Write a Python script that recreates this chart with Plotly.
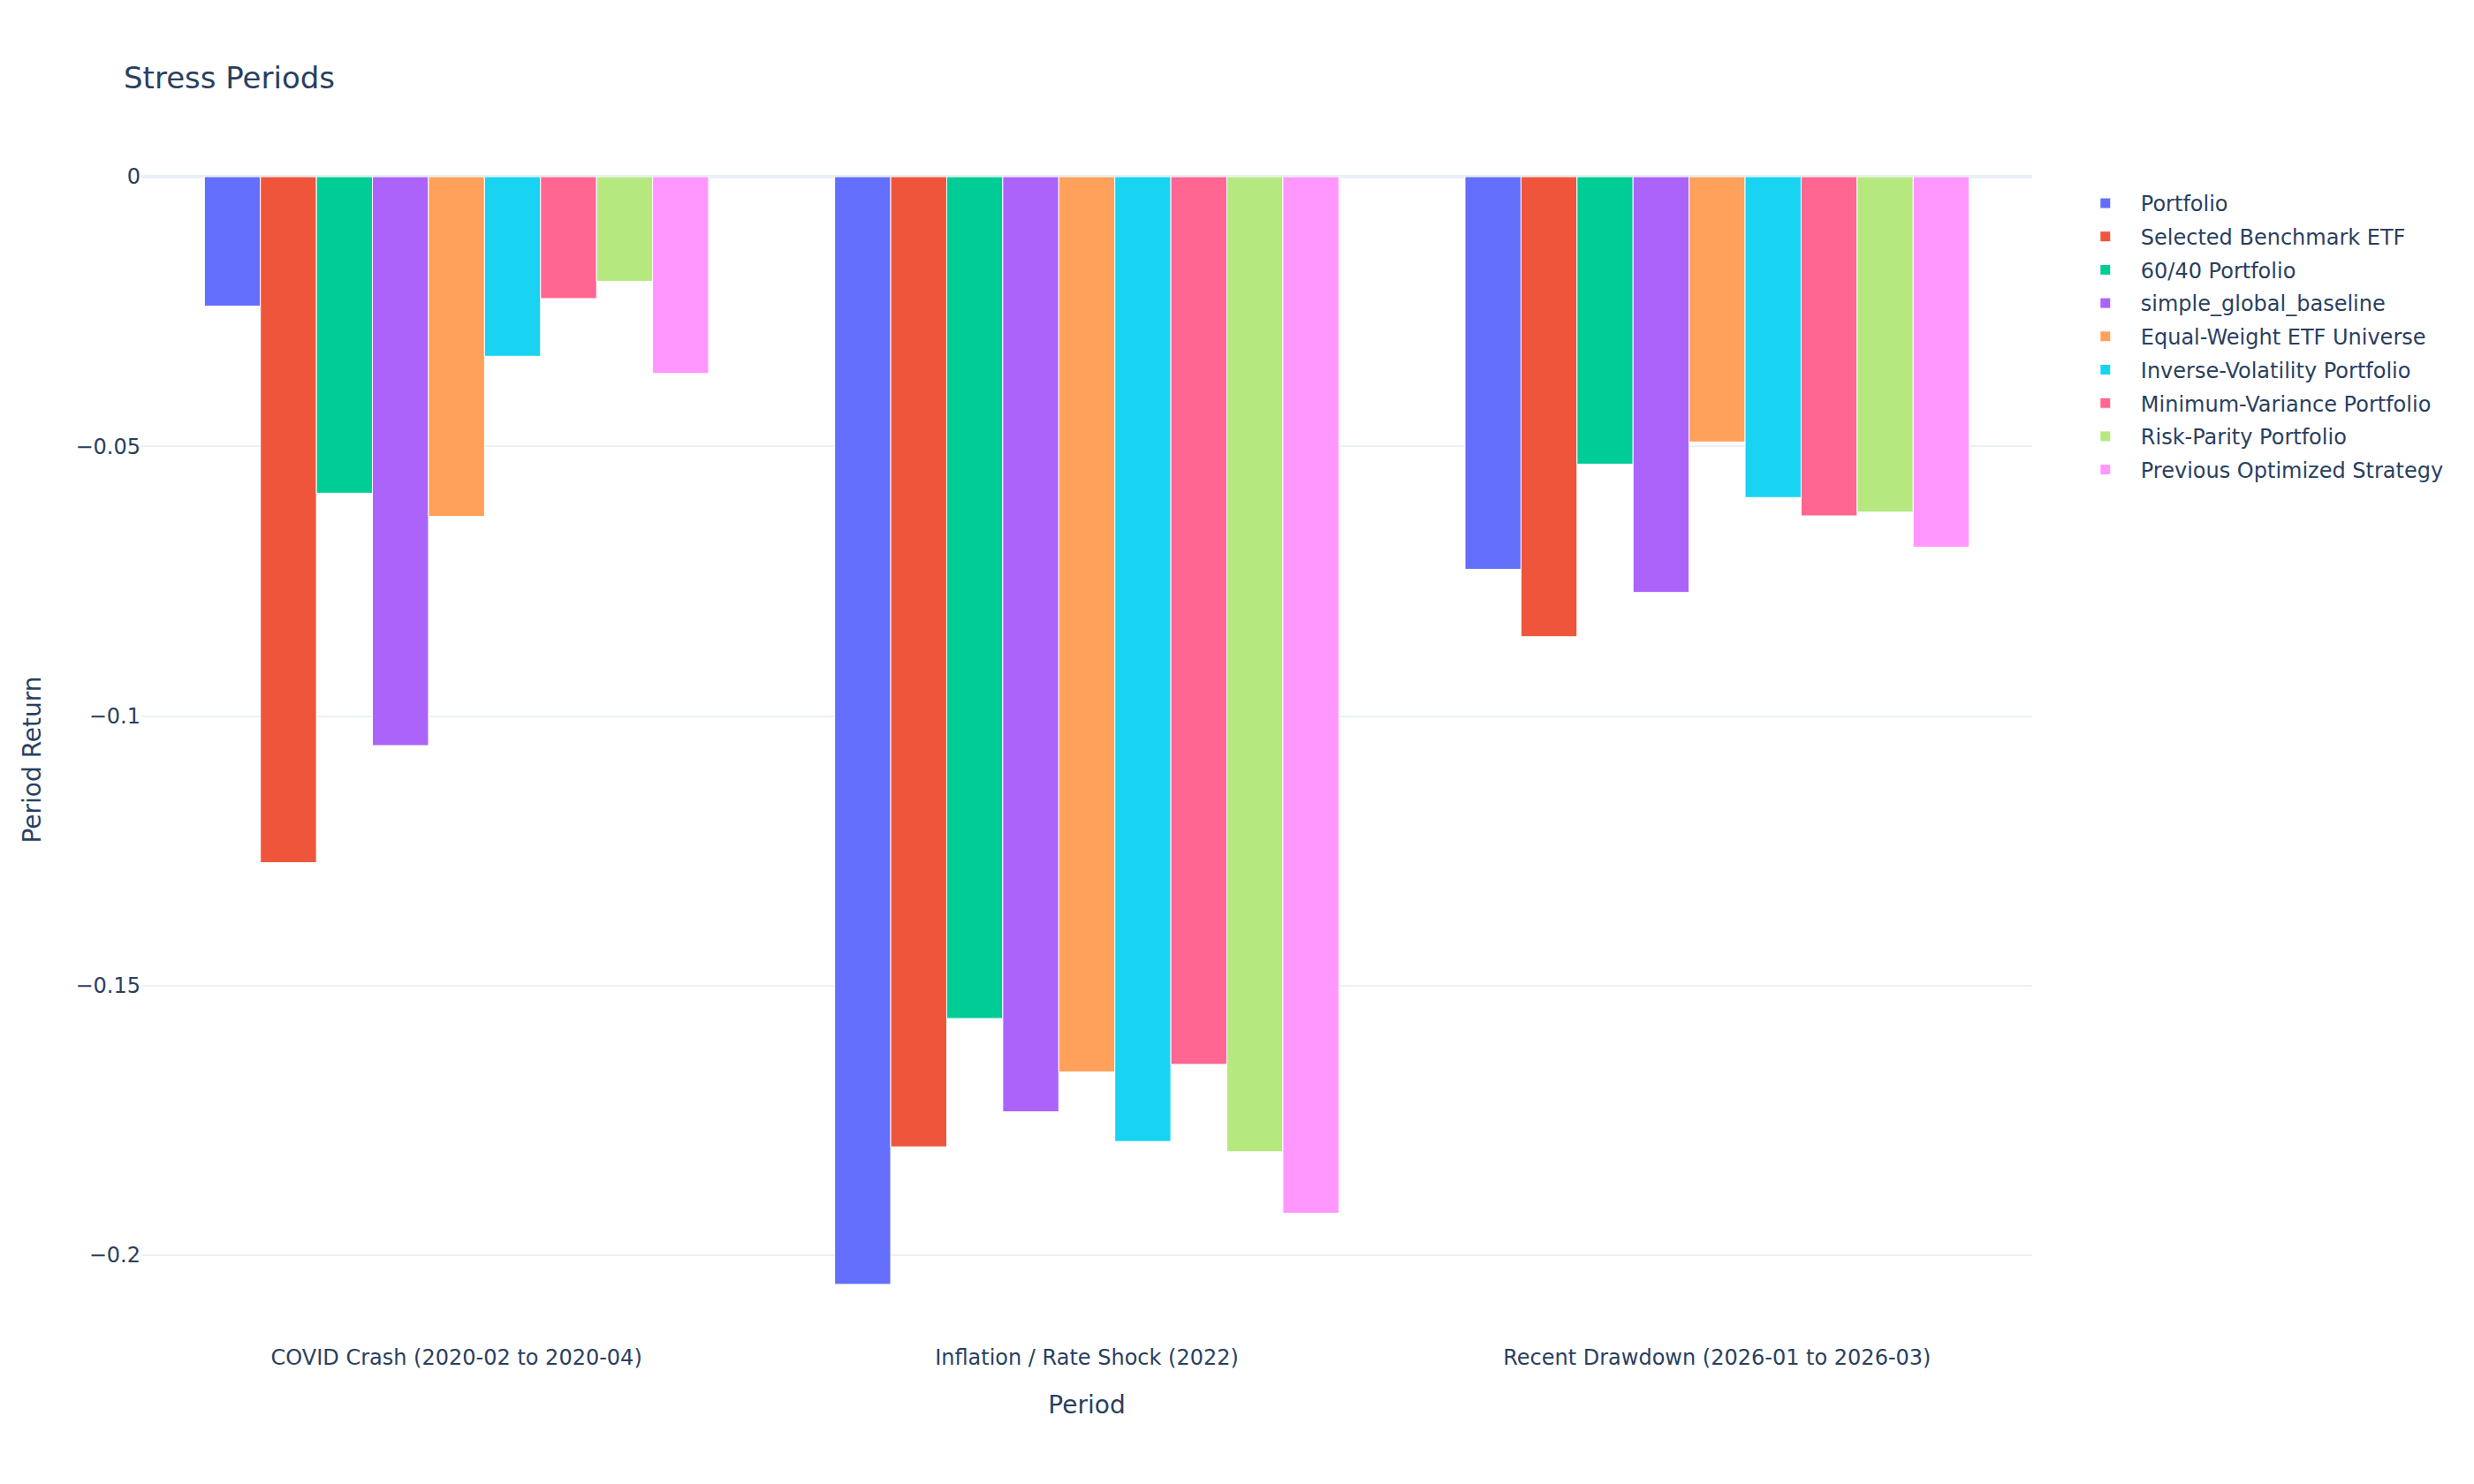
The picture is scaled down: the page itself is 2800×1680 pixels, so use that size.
import plotly.graph_objects as go

S = 2.0

periods = ["COVID Crash (2020-02 to 2020-04)", "Inflation / Rate Shock (2022)", "Recent Drawdown (2026-01 to 2026-03)"]

portfolio = [-0.0240, -0.2054, -0.0728]
benchmark = [-0.1272, -0.1799, -0.0853]
sixty_forty = [-0.0587, -0.1561, -0.0533]
simple_global = [-0.1055, -0.1734, -0.0771]
equal_weight = [-0.0630, -0.1660, -0.0492]
inverse_vol = [-0.0333, -0.1789, -0.0595]
min_variance = [-0.0226, -0.1646, -0.0629]
risk_parity = [-0.0194, -0.1808, -0.0622]
prev_optimized = [-0.0365, -0.1922, -0.0687]

series_names = ["Portfolio", "Selected Benchmark ETF", "60/40 Portfolio", "simple_global_baseline",
                "Equal-Weight ETF Universe", "Inverse-Volatility Portfolio", "Minimum-Variance Portfolio",
                "Risk-Parity Portfolio", "Previous Optimized Strategy"]
series_values = [portfolio, benchmark, sixty_forty, simple_global, equal_weight, inverse_vol,
                 min_variance, risk_parity, prev_optimized]

FONT = "DejaVu Sans, Verdana, sans-serif"

fig = go.Figure()
for name, vals in zip(series_names, series_values):
    fig.add_trace(go.Bar(name=name, x=periods, y=vals, legendgroup=name,
                         marker_line_width=0.5 * S))

fig.update_layout(
    template="plotly_white",
    barmode="group",
    title=dict(text="Stress Periods", font=dict(size=17 * S, family=FONT)),
    font=dict(size=12 * S, family=FONT),
    margin=dict(l=160, r=500, t=200, b=160),
    legend=dict(font=dict(size=12 * S, family=FONT), itemwidth=70,
                traceorder="grouped", tracegroupgap=3.5, y=0.994),
    xaxis=dict(title=dict(text="Period", font=dict(size=14 * S), standoff=30),
               showgrid=False, automargin=False),
    yaxis=dict(title=dict(text="Period Return", font=dict(size=14 * S), standoff=30),
               gridwidth=1 * S, zerolinewidth=2 * S, automargin=False),
)

fig.write_html("out.html")
